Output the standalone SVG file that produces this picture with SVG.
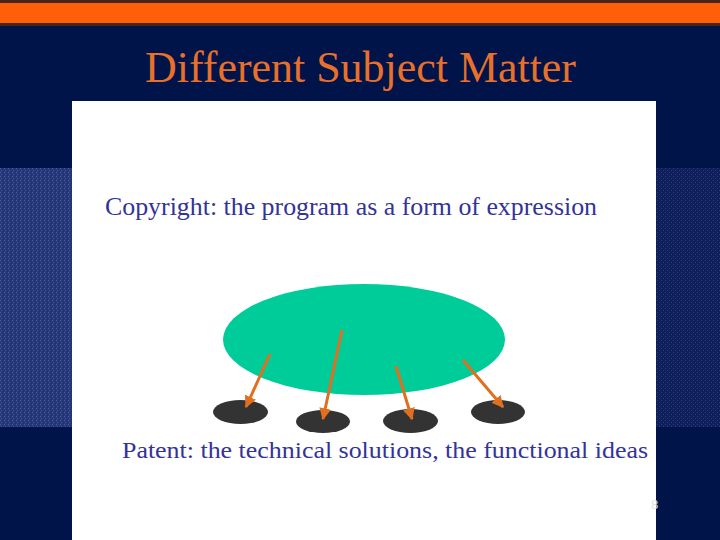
<svg xmlns="http://www.w3.org/2000/svg" width="720" height="540" viewBox="0 0 720 540">
  <defs>
    <pattern id="texL" width="4" height="4" patternUnits="userSpaceOnUse">
      <rect width="4" height="4" fill="#27397a"/>
      <rect x="0" y="0" width="1" height="1" fill="#4a5c9c"/>
      <rect x="2" y="1" width="1" height="1" fill="#1c2c68"/>
      <rect x="1" y="2" width="1" height="1" fill="#44569a"/>
      <rect x="3" y="3" width="1" height="1" fill="#1e2e6a"/>
    </pattern>
    <pattern id="texR" width="4" height="4" patternUnits="userSpaceOnUse">
      <rect width="4" height="4" fill="#0f1f5c"/>
      <rect x="1" y="0" width="1" height="1" fill="#2a3c7c"/>
      <rect x="3" y="2" width="1" height="1" fill="#2a3c7c"/>
    </pattern>
    <marker id="ah" viewBox="0 0 10 10" refX="9" refY="5" markerWidth="4" markerHeight="4" orient="auto" markerUnits="strokeWidth">
      <path d="M0,0 L10,5 L0,10 z" fill="#e07020"/>
    </marker>
    <style>
      .lbl { font-family: "Liberation Serif", "Times New Roman", serif; fill: #333399; }
      .dark { fill: #333333; }
      .arr { stroke: #e07020; stroke-width: 3; fill: none; marker-end: url(#ah); }
    </style>
  </defs>

  <!-- background -->
  <rect x="0" y="0" width="720" height="540" fill="#00144a"/>
  <rect x="0" y="0" width="720" height="26" fill="#4a2418"/>
  <rect x="0" y="3" width="720" height="20" fill="#ff5f08"/>
  <rect x="0" y="168" width="72" height="259" fill="url(#texL)"/>
  <rect x="656" y="168" width="64" height="259" fill="url(#texR)"/>

  <text x="145" y="82" font-family="'Liberation Serif', 'Times New Roman', serif" font-size="44" fill="#e8702a" textLength="431" lengthAdjust="spacingAndGlyphs">Different Subject Matter</text>

  <rect x="72" y="101" width="584" height="439" fill="#ffffff"/>

  <text class="lbl" x="105" y="215" font-size="26" textLength="492" lengthAdjust="spacingAndGlyphs">Copyright: the program as a form of expression</text>

  <g id="program">
    <ellipse cx="364" cy="339.5" rx="141" ry="55.5" fill="#00cc99"/>
  </g>
  <g id="patent1"><ellipse class="dark" cx="240.5" cy="412" rx="27.5" ry="12"/></g>
  <g id="patent2"><ellipse class="dark" cx="323" cy="421.5" rx="27" ry="11.5"/></g>
  <g id="patent3"><ellipse class="dark" cx="410.5" cy="421" rx="27.5" ry="12"/></g>
  <g id="patent4"><ellipse class="dark" cx="498" cy="412" rx="27" ry="12"/></g>

  <g id="connectors">
    <line class="arr" x1="270" y1="354" x2="246" y2="407"/>
    <line class="arr" x1="342" y1="330" x2="323" y2="419"/>
    <line class="arr" x1="396" y1="366" x2="412" y2="419"/>
    <line class="arr" x1="463" y1="360" x2="503" y2="407"/>
  </g>

  <text class="lbl" x="122" y="458" font-size="24" textLength="526" lengthAdjust="spacingAndGlyphs">Patent: the technical solutions, the functional ideas</text>

  <text x="651" y="509" font-family="'Liberation Sans', Arial, sans-serif" font-size="13" fill="#e4e4e4">8</text>
</svg>
